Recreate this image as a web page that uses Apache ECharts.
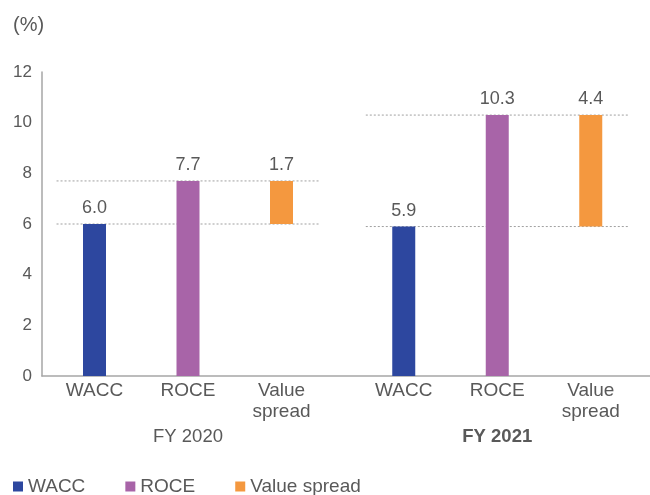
<!DOCTYPE html>
<html>
<head>
<meta charset="utf-8">
<style>html,body{margin:0;padding:0;background:#fff;}#c{width:650px;height:495px;}</style>
<script src="https://cdn.jsdelivr.net/npm/echarts@6/dist/echarts.min.js"></script>
</head>
<body>
<div id="c"></div>
<script>
const years = ['FY 2020', 'FY 2021'];
const categories = ['WACC', 'ROCE', 'Value\nspread'];
const wacc = [6.0, 5.9];
const roce = [7.7, 10.3];
const valueSpread = [1.7, 4.4];
const yTicks = [0, 2, 4, 6, 8, 10, 12];

const FONT = 'Liberation Sans, Arial, sans-serif';
const TXT = '#595959';
const C_WACC = '#2D479F', C_ROCE = '#A864A8', C_SPREAD = '#F4983F';
const OVER = 0.406;

const chart = echarts.init(document.getElementById('c'));

const grids = [
  { left: 42, right: 0, top: 72, bottom: 119 },
  { left: 47.75, width: 280.5, top: 72, bottom: 119 },
  { left: 357, width: 280.5, top: 72, bottom: 119 }
];
const xAxes = [
  { gridIndex: 0, type: 'value', min: 0, max: 1, axisLine: { show: true, onZero: false, lineStyle: { color: '#A6A6A6', width: 1.5 } }, axisTick: { show: false }, axisLabel: { show: false }, splitLine: { show: false } }
];
const yAxes = [
  { gridIndex: 0, type: 'value', min: yTicks[0], max: yTicks[yTicks.length - 1], interval: yTicks[1] - yTicks[0],
    axisLine: { show: true, lineStyle: { color: '#A6A6A6', width: 1.5 } }, axisTick: { show: false }, splitLine: { show: false },
    axisLabel: { color: TXT, fontSize: 17, fontFamily: FONT, margin: 10 } }
];
const series = [];
years.forEach((yr, g) => {
  const gi = g + 1;
  xAxes.push({ gridIndex: gi, type: 'category', data: categories,
    axisLine: { show: false }, axisTick: { show: false },
    axisLabel: { color: TXT, fontSize: 19, fontFamily: FONT, margin: 4, lineHeight: 21, interval: 0 },
    name: yr, nameLocation: 'middle', nameGap: 51,
    nameTextStyle: { color: TXT, fontSize: 18.5, fontFamily: FONT, fontWeight: g === 1 ? 'bold' : 'normal' } });
  const catIdx = xAxes.length - 1;
  xAxes.push({ gridIndex: gi, type: 'value', min: -0.5, max: categories.length - 0.5, show: false });
  const valIdx = xAxes.length - 1;
  yAxes.push({ gridIndex: gi, type: 'value', min: yTicks[0], max: yTicks[yTicks.length - 1], show: false });
  const yIdx = yAxes.length - 1;
  const lbl = { show: true, position: 'top', distance: 7, color: TXT, fontSize: 18, fontFamily: FONT, formatter: p => p.value.toFixed(1) };
  const common = { type: 'bar', xAxisIndex: catIdx, yAxisIndex: yIdx, barWidth: 23, barGap: '-100%', z: 3 };
  series.push(Object.assign({}, common, { name: 'WACC', data: [wacc[g], '-', '-'], itemStyle: { color: C_WACC }, label: lbl }));
  series.push(Object.assign({}, common, { name: 'ROCE', data: ['-', roce[g], '-'], itemStyle: { color: C_ROCE }, label: lbl }));
  series.push(Object.assign({}, common, { name: 'base' + g, stack: 'sp' + g, data: ['-', '-', wacc[g]], itemStyle: { color: 'transparent' }, silent: true }));
  series.push(Object.assign({}, common, { name: 'Value spread', stack: 'sp' + g, data: ['-', '-', valueSpread[g]], itemStyle: { color: C_SPREAD }, label: lbl }));
  [roce[g], wacc[g]].forEach(v => {
    series.push({ type: 'line', xAxisIndex: valIdx, yAxisIndex: yIdx, silent: true, symbol: 'none', z: 1,
      data: [[-OVER, v], [categories.length - 1 + OVER, v]],
      lineStyle: { color: '#A0A0A0', width: 1, type: [2, 2] } });
  });
});

chart.setOption({
  animation: false,
  title: { text: '(%)', left: 8, top: 10, textStyle: { color: TXT, fontSize: 20, fontWeight: 'normal', fontFamily: FONT } },
  legend: { data: ['WACC', 'ROCE', 'Value spread'], left: 8, top: 472, icon: 'rect', itemWidth: 10, itemHeight: 10, itemGap: 40,
    textStyle: { color: TXT, fontSize: 19, fontFamily: FONT } },
  grid: grids, xAxis: xAxes, yAxis: yAxes, series: series
});
</script>
</body>
</html>
